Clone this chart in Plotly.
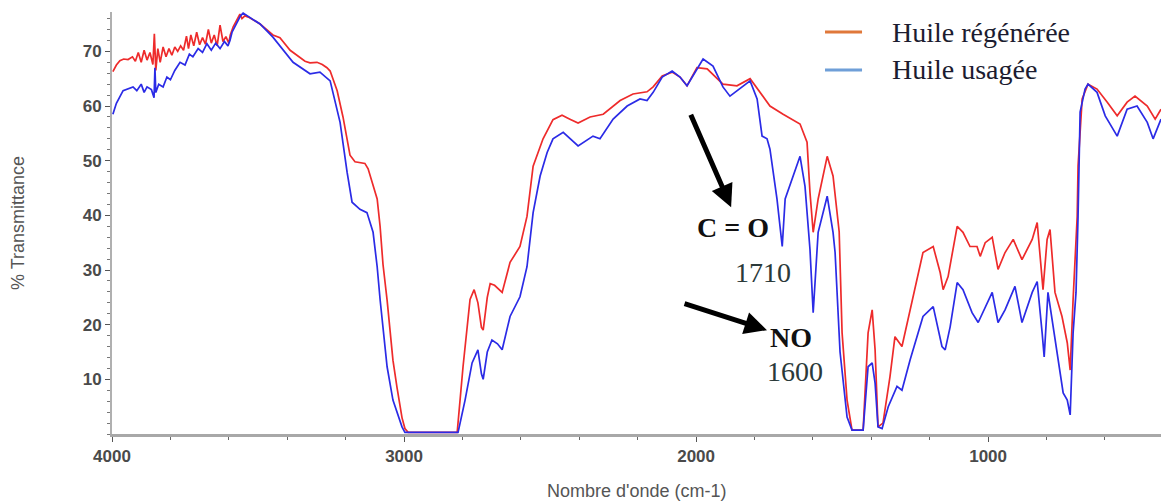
import plotly.graph_objects as go

# Huile régénérée (red)
wn_regen = [3997, 3985, 3973, 3960, 3945, 3930, 3920, 3910, 3900, 3890, 3880, 3870, 3860, 3855, 3850,
            3843, 3835, 3825, 3815, 3805, 3795, 3785, 3775, 3765, 3755, 3745, 3738, 3730, 3720, 3710,
            3700, 3690, 3680, 3670, 3660, 3650, 3640, 3630, 3620, 3610, 3600, 3595, 3585, 3575, 3562,
            3555, 3545, 3530, 3493, 3449, 3425, 3390, 3373, 3339, 3322, 3298, 3280, 3264, 3253, 3229,
            3209, 3195, 3185, 3168, 3151, 3134, 3123, 3106, 3092, 3082, 3072, 3058, 3048, 3038, 3024,
            3007, 2997, 2986, 2818, 2798, 2774, 2760, 2747, 2735, 2729, 2715, 2705, 2690, 2664, 2637,
            2603, 2579, 2558, 2524, 2490, 2459, 2432, 2404, 2363, 2318, 2260, 2216, 2168, 2147, 2116,
            2082, 2055, 2031, 1997, 1962, 1908, 1860, 1815, 1781, 1747, 1702, 1644, 1620, 1610, 1599,
            1582, 1551, 1531, 1510, 1500, 1483, 1466, 1428, 1411, 1397, 1387, 1377, 1360, 1336, 1319,
            1295, 1267, 1223, 1188, 1164, 1154, 1137, 1106, 1086, 1062, 1038, 1027, 1010, 986, 966,
            942, 914, 884, 849, 832, 822, 812, 798, 788, 771, 747, 729, 719, 709, 695,
            692, 678, 658, 627, 592, 558, 524, 497, 455, 428, 408]
t_regen = [66.3, 67.5, 68.3, 68.6, 68.5, 69.0, 68.2, 69.8, 68.0, 70.2, 68.4, 69.8, 67.6, 73.2, 66.5,
           70.5, 68.0, 70.8, 69.0, 70.5, 69.3, 70.8, 70.0, 71.0, 70.2, 72.8, 70.5, 73.0, 71.0, 73.5,
           71.2, 72.5, 71.3, 74.0, 71.5, 73.0, 71.0, 74.8, 71.8, 72.7, 71.5, 73.0, 74.5, 75.5, 76.8,
           76.0, 76.5, 76.2, 75.0, 73.0, 72.5, 70.2, 69.5, 68.2, 67.9, 68.0, 67.6, 67.0, 66.4, 62.8,
           58.0, 54.0, 51.0, 49.8, 49.6, 49.5, 48.5, 45.5, 43.0, 38.0, 31.0, 24.5, 18.5, 13.5, 8.5,
           3.0, 1.0, 0.3, 0.3, 12.3, 24.6, 26.4, 24.0, 19.5, 19.0, 25.0, 27.5, 27.2, 25.9, 31.4,
           34.3, 39.8, 49.0, 54.0, 57.5, 58.3, 57.6, 56.9, 58.0, 58.5, 61.0, 62.2, 62.6, 63.5, 65.5,
           66.2, 65.3, 63.7, 67.0, 66.8, 64.0, 63.7, 65.0, 62.5, 60.0, 58.5, 56.7, 53.4, 44.2, 36.9,
           43.0, 50.8, 47.2, 37.0, 18.5, 6.2, 0.7, 0.7, 18.5, 22.7, 15.4, 1.3, 2.0, 10.5, 17.8,
           16.0, 22.7, 33.2, 34.3, 29.5, 26.4, 28.8, 38.0, 36.9, 34.3, 34.3, 32.5, 35.0, 36.0, 30.1,
           33.2, 35.6, 31.9, 35.6, 38.7, 33.2, 26.4, 35.6, 37.4, 25.9, 21.5, 16.7, 11.7, 24.6, 39.8,
           49.0, 61.3, 64.0, 63.1, 60.7, 58.2, 60.7, 61.8, 60.0, 57.6, 59.4]

# Huile usagée (blue)
wn_used = [3997, 3985, 3962, 3945, 3928, 3915, 3900, 3890, 3880, 3865, 3856, 3853, 3850, 3840, 3825,
           3812, 3800, 3785, 3767, 3750, 3735, 3723, 3705, 3690, 3675, 3660, 3645, 3630, 3615, 3603,
           3596, 3589, 3575, 3560, 3551, 3530, 3493, 3449, 3380, 3322, 3288, 3253, 3219, 3195, 3178,
           3151, 3127, 3106, 3092, 3082, 3058, 3038, 3007, 2997, 2815, 2791, 2767, 2747, 2735, 2729,
           2715, 2699, 2680, 2664, 2637, 2603, 2579, 2558, 2534, 2510, 2490, 2455, 2404, 2353, 2329,
           2284, 2236, 2192, 2168, 2147, 2116, 2082, 2055, 2031, 1976, 1942, 1908, 1884, 1860, 1815,
           1791, 1774, 1757, 1747, 1723, 1705, 1695, 1671, 1644, 1627, 1610, 1599, 1582, 1551, 1531,
           1524, 1507, 1483, 1466, 1428, 1411, 1397, 1387, 1377, 1363, 1342, 1312, 1295, 1267, 1223,
           1188, 1158, 1147, 1130, 1106, 1086, 1055, 1034, 1010, 986, 966, 942, 908, 884, 849,
           832, 815, 808, 795, 781, 764, 743, 729, 719, 709, 699, 692, 685, 668, 658,
           627, 599, 558, 524, 490, 455, 435, 408]
t_used = [58.5, 60.5, 62.8, 63.2, 63.5, 62.8, 64.0, 62.5, 63.5, 63.0, 61.5, 67.0, 62.5, 64.0, 63.5,
          65.3, 64.8, 66.5, 68.0, 67.5, 69.5, 69.0, 70.5, 69.8, 71.4, 70.2, 71.5, 70.5, 71.8, 71.0,
          72.0, 73.5, 75.0, 76.5, 77.0, 76.3, 75.0, 72.6, 68.0, 65.9, 66.2, 64.6, 57.0, 47.9, 42.4,
          41.1, 40.5, 36.9, 30.6, 24.6, 12.3, 6.2, 1.3, 0.3, 0.3, 6.2, 13.0, 15.4, 11.0, 10.0,
          15.0, 17.2, 16.5, 15.4, 21.5, 25.1, 30.6, 40.5, 47.2, 51.5, 54.0, 55.2, 52.7, 54.5, 54.0,
          57.6, 60.0, 61.3, 61.0, 62.5, 65.3, 66.4, 65.3, 63.7, 68.6, 67.3, 63.5, 61.8, 62.8, 64.6,
          61.3, 54.5, 54.0, 52.1, 43.0, 34.3, 43.0, 46.6, 50.8, 45.3, 33.8, 22.2, 36.9, 43.5, 36.9,
          33.2, 15.0, 3.1, 0.7, 0.7, 12.3, 13.0, 9.3, 1.3, 1.0, 5.0, 8.7, 8.0, 13.6, 21.5,
          23.3, 16.0, 15.4, 19.6, 27.7, 26.4, 22.2, 20.4, 23.3, 25.9, 20.4, 22.7, 27.0, 20.4, 25.9,
          27.9, 18.5, 14.1, 25.9, 20.9, 14.9, 7.5, 6.2, 3.5, 18.5, 25.9, 39.8, 58.9, 63.1, 64.0,
          62.5, 58.2, 54.5, 59.4, 60.0, 57.0, 54.0, 57.6]

x_ticks = [4000, 3000, 2000, 1000]
y_ticks = [10, 20, 30, 40, 50, 60, 70]
legend_labels = ["Huile régénérée", "Huile usagée"]

fig = go.Figure()
fig.add_trace(go.Scatter(x=wn_regen, y=t_regen, mode="lines",
                         line=dict(color="#ee2b2b", width=1.7), showlegend=False))
fig.add_trace(go.Scatter(x=wn_used, y=t_used, mode="lines",
                         line=dict(color="#2b2be6", width=1.7), showlegend=False))

tickfont = dict(family="Arial, Liberation Sans", size=17, color="#4a4a4a", weight="bold")
fig.update_xaxes(range=[4000, 408], tickvals=x_ticks, ticks="outside", ticklen=5,
                 tickcolor="#555", showline=True, linecolor="#a8a8a8", linewidth=3,
                 showgrid=False, zeroline=False, tickfont=tickfont,
                 minor=dict(dtick=200, ticks="outside", ticklen=3, tickcolor="#666"))
fig.update_yaxes(range=[0, 77.2], tickvals=y_ticks, ticks="outside", ticklen=5,
                 tickcolor="#555", showline=True, linecolor="#b0b0b0", linewidth=2,
                 showgrid=False, zeroline=False, tickfont=tickfont,
                 minor=dict(dtick=2, ticks="outside", ticklen=3, tickcolor="#777"))

serif = "Liberation Serif, Times New Roman"
annotations = [
    dict(text="Nombre d'onde (cm-1)", xref="paper", yref="paper", x=0.5, y=-0.135,
         xanchor="center", yanchor="middle", showarrow=False,
         font=dict(family="Arial", size=18, color="#555")),
    dict(text="% Transmittance", xref="paper", yref="paper", x=-0.0896, y=0.5,
         xanchor="center", yanchor="middle", textangle=-90, showarrow=False,
         font=dict(family="Arial", size=18, color="#555")),
    # arrows
    dict(x=1880, y=41.5, ax=-41, ay=-94, xref="x", yref="y", text="", showarrow=True,
         arrowhead=2, arrowsize=0.9, arrowwidth=5, arrowcolor="black"),
    dict(x=1757, y=19.0, ax=-84, ay=-27, xref="x", yref="y", text="", showarrow=True,
         arrowhead=2, arrowsize=0.9, arrowwidth=5, arrowcolor="black"),
    dict(text="<b>C = O</b>", x=1873, y=37.8, xref="x", yref="y", showarrow=False,
         font=dict(family=serif, size=28, color="#111")),
    dict(text="1710", x=1770, y=29.5, xref="x", yref="y", showarrow=False,
         font=dict(family=serif, size=28, color="#2b3a3a")),
    dict(text="<b>NO</b>", x=1676, y=17.7, xref="x", yref="y", showarrow=False,
         font=dict(family=serif, size=28, color="#111")),
    dict(text="1600", x=1660, y=11.5, xref="x", yref="y", showarrow=False,
         font=dict(family=serif, size=28, color="#2b3a3a")),
    # legend texts
    dict(text=legend_labels[0], xref="paper", yref="paper", x=0.7417, y=0.9526,
         xanchor="left", yanchor="middle", showarrow=False,
         font=dict(family=serif, size=28, color="#1c1c30")),
    dict(text=legend_labels[1], xref="paper", yref="paper", x=0.7417, y=0.8626,
         xanchor="left", yanchor="middle", showarrow=False,
         font=dict(family=serif, size=28, color="#1c1c30")),
]

shapes = [
    dict(type="line", xref="paper", yref="paper", x0=0.6797, x1=0.7150, y0=0.9526, y1=0.9526,
         line=dict(color="#e0783a", width=3)),
    dict(type="line", xref="paper", yref="paper", x0=0.6797, x1=0.7150, y0=0.8626, y1=0.8626,
         line=dict(color="#6f9fd8", width=3)),
]

fig.update_layout(width=1161, height=504, margin=dict(l=112, r=0, t=12, b=70),
                  plot_bgcolor="white", paper_bgcolor="white",
                  annotations=annotations, shapes=shapes, showlegend=False)

fig.write_html("out.html")
